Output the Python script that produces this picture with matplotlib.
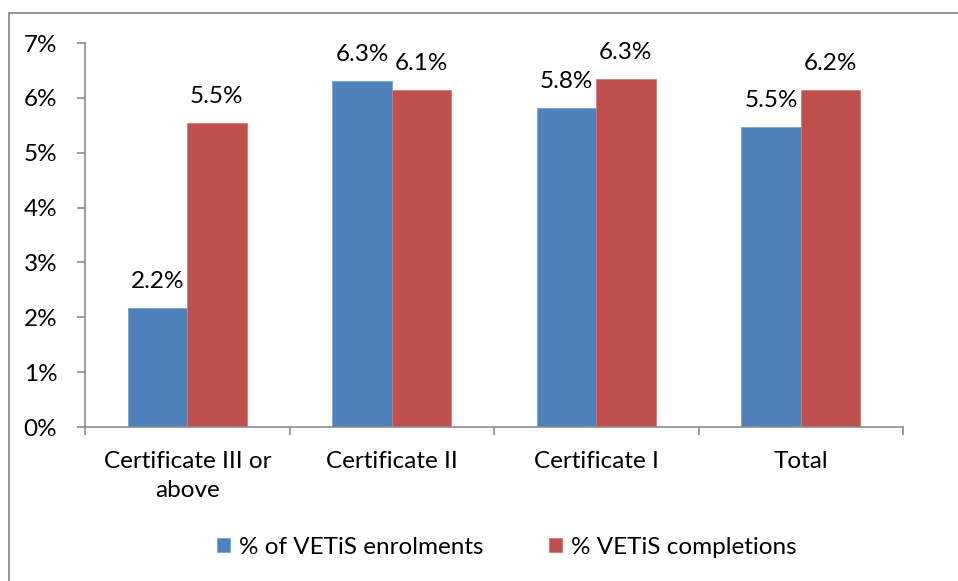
import matplotlib
matplotlib.use("Agg")
import matplotlib.pyplot as plt
import numpy as np
from matplotlib.patches import Rectangle

# chart values (percent)
categories = ["Certificate III or\nabove", "Certificate II", "Certificate I", "Total"]
enrolments = [2.17, 6.31, 5.81, 5.47]
completions = [5.54, 6.14, 6.35, 6.15]
series_names = ["% of VETiS enrolments", "% VETiS completions"]
enrol_labels = ["2.2%", "6.3%", "5.8%", "5.5%"]
compl_labels = ["5.5%", "6.1%", "6.3%", "6.2%"]
yticks = [0, 1, 2, 3, 4, 5, 6, 7]

plt.rcParams['font.family'] = ['Lato', 'DejaVu Sans']
plt.rcParams['font.size'] = 17.5
fs = 17.5

W, H = 958, 581
fig = plt.figure(figsize=(W / 100, H / 100), dpi=100)

# outer chart border (runs off right/bottom edge)
fig.patches.append(Rectangle((9 / W, -0.1), 1.2, 1 - 13 / H + 0.1,
                             transform=fig.transFigure, fill=False,
                             edgecolor='#8c8c8c', linewidth=1.3))

ax = fig.add_axes([85 / W, (H - 427) / H, 818 / W, 384 / H])

x = np.arange(len(categories))
bw = 0.29
blue = '#4F81BD'
red = '#C0504D'
b1 = ax.bar(x - bw / 2, enrolments, bw, color=blue, edgecolor='#7aa0d0', linewidth=0.6,
            label=series_names[0])
b2 = ax.bar(x + bw / 2, completions, bw, color=red, edgecolor='#d07a78', linewidth=0.6,
            label=series_names[1])

for xs, vals, labs in [(x - bw / 2, enrolments, enrol_labels), (x + bw / 2, completions, compl_labels)]:
    for xi, v, t in zip(xs, vals, labs):
        ax.annotate(t, (xi, v), xytext=(0, 19), textcoords='offset points',
                    ha='center', va='center', fontsize=fs)

ax.set_xlim(-0.5, len(categories) - 0.5)
ax.set_ylim(0, 7)
ax.set_yticks(yticks)
ax.set_yticklabels([f"{t}%" for t in yticks])
ax.set_xticks(np.arange(len(categories) + 1) - 0.5)
ax.set_xticklabels([])
ax.set_xticks(x, minor=True)
ax.set_xticklabels(categories, minor=True, linespacing=1.5)
ax.tick_params(axis='x', which='minor', length=0, pad=17)
ax.tick_params(axis='x', which='major', length=6, color='#8c8c8c', width=1.2)
ax.tick_params(axis='y', length=6, color='#8c8c8c', width=1.2, pad=14)
for s in ['top', 'right']:
    ax.spines[s].set_visible(False)
for s in ['left', 'bottom']:
    ax.spines[s].set_color('#8c8c8c')
    ax.spines[s].set_linewidth(1.2)

fig.legend(handles=[b1, b2], labels=series_names, loc='center',
           bbox_to_anchor=(507 / W, 1 - 547 / H), ncol=2, frameon=False,
           handlelength=0.53, handleheight=0.53, handletextpad=0.37, columnspacing=2.7,
           fontsize=fs)

fig.savefig("out.png", dpi=100)
